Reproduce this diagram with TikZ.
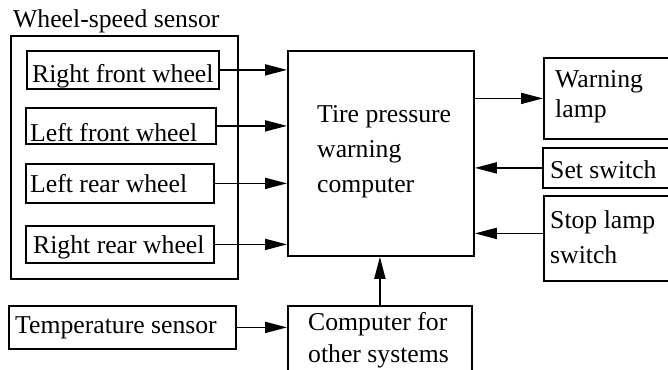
\documentclass[tikz,border=0pt]{standalone}
\usepackage{fontspec}
\setmainfont{Liberation Serif}
\usetikzlibrary{positioning, calc, arrows.meta}

\tikzset{
  blk/.style={draw, line width=1.8pt, inner sep=0pt, anchor=north west},
  txt/.style={inner sep=0pt, anchor=base west, align=left,
    font=\fontsize{25.7}{33}\selectfont},
  arr/.style={line width=1.8pt, -{Triangle[length=22pt, width=11pt]}},
}

\begin{document}
\begin{tikzpicture}[x=1pt, y=-1pt]
    \useasboundingbox (0,0) rectangle (668,369);

    % Wheel-speed sensor group with its four wheels
    \node[txt] (wsst) at (13,28) {Wheel-speed sensor};
    \node[blk, minimum width=227, minimum height=243] (wss) at (10,35) {};

    \node[blk, minimum width=192, minimum height=38] (rfw) at (26,50) {};
    \node[txt] (rfwt) at (32,82) {Right front wheel};

    \node[blk, minimum width=190, minimum height=36] (lfw) at (25,107) {};
    \node[txt] (lfwt) at (30,141) {Left front wheel};

    \node[blk, minimum width=188, minimum height=39] (lrw) at (25,163) {};
    \node[txt] (lrwt) at (30,192) {Left rear wheel};

    \node[blk, minimum width=188, minimum height=37] (rrw) at (25,225) {};
    \node[txt] (rrwt) at (33,253) {Right rear wheel};

    % Central computer (base anchor sits on the last line)
    \node[blk, minimum width=186, minimum height=205] (twc) at (287,50) {};
    \node[txt, font=\fontsize{25.7}{35}\selectfont] (twct) at (317,192)
        {Tire pressure\\warning\\computer};

    % Right-hand side: lamp and switches (cut by the page edge)
    \node[blk, minimum width=130, minimum height=81] (wl) at (543,57) {};
    \node[txt, font=\fontsize{25.7}{30}\selectfont] (wlt) at (555,117) {Warning\\lamp};

    \node[blk, minimum width=130, minimum height=40] (ss) at (542,147) {};
    \node[txt] (sst) at (550,178) {Set switch};

    \node[blk, minimum width=130, minimum height=85] (sls) at (543,195) {};
    \node[txt, font=\fontsize{25.7}{35}\selectfont] (slst) at (550,263) {Stop lamp\\switch};

    % Bottom row: temperature sensor and other computer
    \node[blk, minimum width=227, minimum height=43] (tse) at (8,305) {};
    \node[txt] (tset) at (15,333) {Temperature sensor};

    \node[blk, minimum width=184, minimum height=70] (cfo) at (287,305) {};
    \node[txt, font=\fontsize{25.7}{32}\selectfont] (cfot) at (308,362)
        {Computer for\\other systems};

    % Signal arrows into the computer
    \draw[arr] (rfw.east) -- (rfw.east -| twc.west);
    \draw[arr] (lfw.east) -- (lfw.east -| twc.west);
    \draw[arr] (lrw.east) -- (lrw.east -| twc.west);
    \draw[arr] (rrw.east) -- (rrw.east -| twc.west);

    \draw[arr] (twc.east |- wl.west) -- (wl.west);
    \draw[arr] (ss.west) -- (ss.west -| twc.east);
    \draw[arr] ([yshift=5]sls.west) -- ([yshift=5]sls.west -| twc.east);

    \draw[arr] (tse.east) -- (tse.east -| cfo.west);
    \draw[arr] (cfo.north) -- (cfo.north |- twc.south);

\end{tikzpicture}
\end{document}
